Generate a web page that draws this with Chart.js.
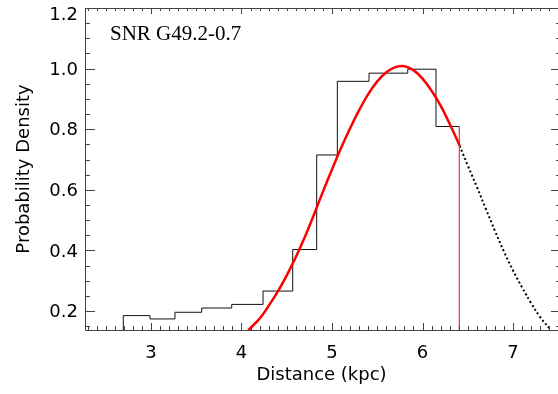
<!DOCTYPE html>
<html>
<head>
<meta charset="utf-8">
<script src="https://cdn.jsdelivr.net/npm/chart.js@4.4.1/dist/chart.umd.min.js"></script>
<style>
  html, body { margin: 0; padding: 0; background: #fff; }
  #wrap { width: 558px; height: 394px; position: relative; }
</style>
</head>
<body>
<div id="wrap"><canvas id="chart"></canvas></div>
<script>
// histogram bin edges (kpc) and heights
const binEdges = [2.694, 2.989, 3.265, 3.560, 3.892, 4.238, 4.566, 4.831, 5.059, 5.409, 5.837, 6.149, 6.407];
const binHeights = [0.185, 0.174, 0.196, 0.210, 0.222, 0.266, 0.403, 0.715, 0.958, 0.985, 0.998, 0.809];

// red fitted curve (solid part)
const fitX = [4.075, 4.2, 4.3, 4.4, 4.5, 4.6, 4.7, 4.8, 4.9, 5.0, 5.1, 5.2, 5.3, 5.4, 5.5, 5.6, 5.7, 5.8, 5.9, 6.0, 6.1, 6.2, 6.3, 6.41];
const fitY = [0.137, 0.175, 0.217, 0.264, 0.318, 0.378, 0.444, 0.518, 0.594, 0.667, 0.738, 0.803, 0.863, 0.916, 0.958, 0.988, 1.005, 1.008, 0.995, 0.967, 0.927, 0.878, 0.818, 0.746];

// dotted continuation beyond the cutoff
const extX = [6.41, 6.5, 6.6, 6.7, 6.8, 6.9, 7.0, 7.1, 7.2, 7.3, 7.42];
const extY = [0.746, 0.680, 0.610, 0.537, 0.465, 0.396, 0.334, 0.278, 0.226, 0.180, 0.137];

const cutoff = 6.407;
const xTicks = [3, 4, 5, 6, 7];
const yTicks = [0.2, 0.4, 0.6, 0.8, 1.0, 1.2];
const xMin = 2.271, xMax = 7.497;
const yMin = 0.1375, yMax = 1.2;

const histData = [{ x: binEdges[0], y: yMin }];
binHeights.forEach((h, i) => histData.push({ x: binEdges[i], y: h }));
histData.push({ x: binEdges[binEdges.length - 1], y: binHeights[binHeights.length - 1] });

const fitData = fitX.map((x, i) => ({ x: x, y: fitY[i] }));
const extData = extX.map((x, i) => ({ x: x, y: extY[i] }));
const cutData = [{ x: cutoff, y: yMin }, { x: cutoff, y: binHeights[binHeights.length - 1] }];

// frame with inward ticks on all four sides, plus the label inside the plot
// (the right-hand axis sits just past the picture edge)
const framePlugin = {
    id: 'frame',
    afterDatasetsDraw(chart) {
        const ctx = chart.ctx;
        const a = chart.chartArea;
        const xs = chart.scales.x, ys = chart.scales.y;
        const rx = a.right + 3;
        ctx.save();
        ctx.strokeStyle = '#444';
        ctx.lineWidth = 1;
        ctx.beginPath();
        ctx.moveTo(a.left + 0.5, a.bottom + 0.5);
        ctx.lineTo(a.left + 0.5, a.top + 0.5);
        ctx.lineTo(rx, a.top + 0.5);
        ctx.moveTo(a.left + 0.5, a.bottom + 0.5);
        ctx.lineTo(rx, a.bottom + 0.5);

        for (let k = Math.ceil(xMin * 10); k <= Math.floor(xMax * 10); k++) {
            const px = Math.round(xs.getPixelForValue(k / 10)) + 0.5;
            const len = k % 10 === 0 ? 7 : 4;
            ctx.moveTo(px, a.bottom);
            ctx.lineTo(px, a.bottom - len);
            ctx.moveTo(px, a.top);
            ctx.lineTo(px, a.top + len - 1);
        }
        for (let k = Math.ceil(yMin * 20); k <= Math.floor(yMax * 20 + 1e-6); k++) {
            const py = Math.round(ys.getPixelForValue(k / 20)) + 0.5;
            const len = k % 4 === 0 ? 10 : 5;
            ctx.moveTo(a.left, py);
            ctx.lineTo(a.left + len, py);
            ctx.moveTo(rx, py);
            ctx.lineTo(rx - len, py);
        }
        ctx.stroke();

        ctx.fillStyle = '#000';
        ctx.font = '21px "Liberation Serif", serif';
        ctx.textAlign = 'left';
        ctx.textBaseline = 'alphabetic';
        ctx.fillText('SNR G49.2-0.7', 110, 40);
        ctx.restore();
    }
};

function noPad(s) {
    s.paddingTop = 0;
    s.paddingBottom = 0;
    s.paddingLeft = 0;
    s.paddingRight = 0;
}

// the top label sits a little below its tick, as in the original
const isTop = c => c.tick && Math.abs(c.tick.value - yMax) < 1e-6;

const ctx = document.getElementById('chart').getContext('2d');
new Chart(ctx, {
    type: 'line',
    data: {
        datasets: [
            {
                data: fitData,
                borderColor: '#ff0000',
                borderWidth: 2.5,
                pointRadius: 0,
                tension: 0.4,
                order: 0
            },
            {
                data: cutData,
                borderColor: '#ff3a3a',
                borderWidth: 1.3,
                pointRadius: 0,
                order: 1
            },
            {
                data: extData,
                borderColor: '#000',
                borderWidth: 2,
                borderDash: [2, 2.5],
                pointRadius: 0,
                tension: 0.4,
                order: 2
            },
            {
                data: histData,
                borderColor: '#111',
                borderWidth: 1,
                pointRadius: 0,
                stepped: 'before',
                order: 3
            }
        ]
    },
    options: {
        responsive: true,
        maintainAspectRatio: false,
        animation: false,
        layout: { autoPadding: false, padding: { left: 0, top: 8, right: 0, bottom: 0 } },
        plugins: {
            legend: { display: false },
            tooltip: { enabled: false }
        },
        scales: {
            x: {
                type: 'linear',
                min: xMin,
                max: xMax,
                grid: { display: false, drawTicks: false },
                border: { display: false },
                afterBuildTicks: s => { s.ticks = xTicks.map(v => ({ value: v })); },
                afterFit: s => { s.height = 64; noPad(s); },
                ticks: {
                    color: '#000',
                    padding: 13,
                    maxRotation: 0,
                    font: { family: 'DejaVu Sans', size: 18 },
                    callback: v => String(v)
                },
                title: {
                    display: true,
                    text: 'Distance (kpc)',
                    color: '#000',
                    font: { family: 'DejaVu Sans', size: 18 },
                    padding: { top: 0, bottom: 8 }
                }
            },
            y: {
                type: 'linear',
                min: yMin,
                max: yMax,
                grid: { display: false, drawTicks: false },
                border: { display: false },
                afterBuildTicks: s => { s.ticks = yTicks.map(v => ({ value: v })); },
                afterFit: s => { s.width = 85; noPad(s); },
                ticks: {
                    color: '#000',
                    padding: 7,
                    labelOffset: 1.5,
                    font: c => ({ family: 'DejaVu Sans', size: 18, lineHeight: isTop(c) ? 0.62 : 1.2 }),
                    callback: v => Math.abs(v - yMax) < 1e-6 ? ['', v.toFixed(1)] : v.toFixed(1)
                },
                title: {
                    display: true,
                    text: 'Probability Density',
                    color: '#000',
                    font: { family: 'DejaVu Sans', size: 18 },
                    padding: { top: 14, bottom: 0 }
                }
            }
        }
    },
    plugins: [framePlugin]
});
</script>
</body>
</html>
